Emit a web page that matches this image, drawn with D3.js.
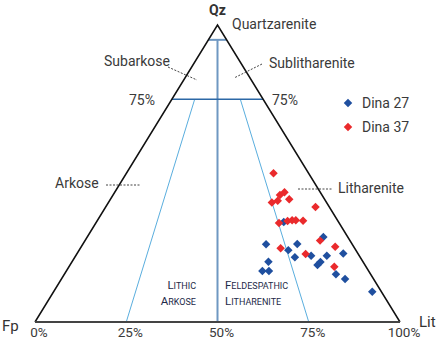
<!DOCTYPE html>
<html><head><meta charset="utf-8">
<script src="https://cdn.jsdelivr.net/npm/d3@7"></script>
<style>body{margin:0;background:#fff}svg{display:block;font-family:Roboto,"Noto Sans",sans-serif}</style>
</head><body><svg id="c" width="437" height="340"></svg>
<script>
// Data: Qz and Lit in percent (Fp = 100 - Qz - Lit)
const seriesNames = ["Dina 27", "Dina 37"];
const dina27Qz  = [26.2, 24.2, 26.3, 21.8, 22.3, 28.6, 22.3, 19.2, 20.2, 20.3, 17.2, 17.2, 23.1, 16.1, 14.5, 10.2, 33.7];
const dina27Lit = [50.2, 57.3, 58.7, 60.3, 64.5, 64.7, 68.8, 67.8, 68.1, 53.8, 53.7, 55.5, 72.9, 74.4, 77.7, 87.3, 51.3];
const dina37Qz  = [50.1, 42.8, 43.7, 40.2, 40.8, 41.3, 38.7, 33.3, 34.0, 34.3, 34.3, 34.1, 24.8, 22.9, 27.4, 25.3, 18.6];
const dina37Lit = [40.3, 45.7, 46.5, 44.8, 46.1, 49.0, 57.5, 50.2, 52.2, 53.3, 54.3, 56.4, 54.9, 62.7, 64.4, 69.6, 72.7];
const tickValues = [0, 25, 50, 75, 100];
const tickLabels = ["0%", "25%", "50%", "75%", "100%"];
const colors = ["#1f4f9f", "#ea2a2c"];

const svg = d3.select("#c");
const x = d3.scaleLinear().domain([0, 100]).range([35, 400]);
const y = d3.scaleLinear().domain([0, 100]).range([322, 25]);
const px = (qz, lit) => x(lit + qz / 2);
const py = (qz) => y(qz);

const txt = "#3a3a3a";

// Rays (F:R ratio lines) from 75% Qz to base
[25, 75].forEach(r => {
  const q = 75, rest = 100 - q;
  svg.append("line")
    .attr("x1", px(q, rest * r / 100)).attr("y1", py(q))
    .attr("x2", px(0, r)).attr("y2", py(0))
    .attr("stroke", "#5aaede").attr("stroke-width", 1);
});
// 50% vertical line from 95% to base
svg.append("line")
  .attr("x1", px(95, 2.5)).attr("y1", py(95))
  .attr("x2", px(0, 50)).attr("y2", py(0))
  .attr("stroke", "#6f98c2").attr("stroke-width", 2);
// 95% line
svg.append("line")
  .attr("x1", px(95, 0)).attr("y1", py(95))
  .attr("x2", px(95, 5)).attr("y2", py(95))
  .attr("stroke", "#6f98c2").attr("stroke-width", 2);
// 75% line
svg.append("line")
  .attr("x1", px(75, 0)).attr("y1", py(75))
  .attr("x2", px(75, 25)).attr("y2", py(75))
  .attr("stroke", "#2c68a6").attr("stroke-width", 1.3);

// Triangle sides
svg.append("path")
  .attr("d", `M${px(0,0)},${py(0)}L${px(100,0)},${py(100)}L${px(0,100)},${py(0)}`)
  .attr("fill", "none").attr("stroke", "#111").attr("stroke-width", 1.5);
// Base axis
svg.append("line").attr("x1", x(0)).attr("y1", y(0)).attr("x2", x(100)).attr("y2", y(0))
  .attr("stroke", "#444").attr("stroke-width", 2);

// Tick labels
svg.selectAll(".tk").data(tickValues).join("text")
  .attr("x", d => x(d) + 4).attr("y", 337)
  .attr("text-anchor", "middle").attr("font-size", 13.5).attr("fill", txt)
  .text((d, i) => tickLabels[i]);

// Corner labels
svg.append("text").attr("x", px(100,0)).attr("y", 15).attr("text-anchor", "middle")
  .attr("font-size", 14).attr("font-weight", "bold").attr("fill", "#333").text("Qz");
svg.append("text").attr("x", 2).attr("y", 331).attr("font-size", 15).attr("fill", "#333").text("Fp");
svg.append("text").attr("x", 419).attr("y", 327).attr("font-size", 15).attr("fill", "#333").text("Lit");

// Field labels
const lab = (xx, yy, t, anchor) => svg.append("text").attr("x", xx).attr("y", yy)
  .attr("font-size", 14).attr("fill", txt).attr("text-anchor", anchor || "start").text(t);
lab(232, 29, "Quartzarenite");
lab(104, 66, "Subarkose");
lab(269, 68, "Sublitharenite");
lab(129, 105, "75%");
lab(272, 105, "75%");
lab(55, 188, "Arkose");
lab(338, 193, "Litharenite");

const dash = (x1, y1, x2, y2) => svg.append("line").attr("x1", x1).attr("y1", y1).attr("x2", x2).attr("y2", y2)
  .attr("stroke", "#444").attr("stroke-width", 1).attr("stroke-dasharray", "2,1.5");
dash(168, 67, 197, 80);
dash(262, 64, 234, 78);
dash(106, 185, 140, 185);
dash(298, 189, 333, 189);

// Small-caps labels
function smallCaps(xx, yy, word, anchor) {
  const t = svg.append("text").attr("x", xx).attr("y", yy).attr("text-anchor", anchor)
    .attr("fill", "#1d2a48");
  t.append("tspan").attr("font-size", 11.5).text(word[0]);
  t.append("tspan").attr("font-size", 9).text(word.slice(1).toUpperCase());
}
smallCaps(196, 289, "Lithic", "end");
smallCaps(196, 305, "Arkose", "end");
smallCaps(225, 289, "Feldespathic", "start");
smallCaps(225, 305, "Litharenite", "start");

// Points
const diamond = d3.symbol().type(d3.symbolDiamond2).size(46);
const sets = [
  dina27Qz.map((q, i) => ({q, l: dina27Lit[i]})),
  dina37Qz.map((q, i) => ({q, l: dina37Lit[i]}))
];
sets.forEach((pts, s) => {
  svg.append("g").selectAll("path").data(pts).join("path")
    .attr("d", diamond)
    .attr("transform", d => `translate(${px(d.q, d.l)},${py(d.q)})`)
    .attr("fill", colors[s]);
});

// Legend
seriesNames.forEach((n, i) => {
  const ly = 103 + i * 24;
  svg.append("path").attr("d", diamond).attr("transform", `translate(348,${ly})`).attr("fill", colors[i]);
  svg.append("text").attr("x", 362).attr("y", ly + 5).attr("font-size", 14).attr("fill", txt).text(n);
});
</script></body></html>
